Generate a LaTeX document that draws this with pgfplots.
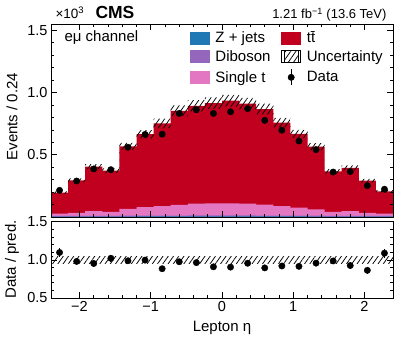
\documentclass[border=0pt]{standalone}
\usepackage{fontspec}
\setmainfont{Liberation Sans}
\usepackage{pgfplots}
\usepackage{pgfplotstable}
\pgfplotsset{compat=1.18}
\usepgfplotslibrary{fillbetween}
\usetikzlibrary{patterns.meta}

\definecolor{zjcol}{HTML}{1F77B4}
\definecolor{vvcol}{HTML}{9467BD}
\definecolor{stcol}{HTML}{E377C2}
\definecolor{ttcol}{HTML}{C0001E}

% stacked tops per bin (left edge), last row repeats the last bin
\pgfplotstableread{
lo    zj    vv    st    tot   unclo unchi
-2.40 0.003 0.008 0.027 0.195 0.185 0.205
-2.16 0.003 0.008 0.034 0.295 0.280 0.310
-1.92 0.003 0.009 0.047 0.405 0.385 0.425
-1.68 0.003 0.009 0.042 0.372 0.353 0.391
-1.44 0.003 0.010 0.066 0.567 0.539 0.595
-1.20 0.004 0.011 0.079 0.665 0.632 0.698
-0.96 0.004 0.012 0.087 0.752 0.714 0.790
-0.72 0.004 0.012 0.098 0.853 0.810 0.896
-0.48 0.004 0.013 0.107 0.893 0.848 0.938
-0.24 0.004 0.013 0.110 0.915 0.869 0.961
 0.00 0.004 0.013 0.110 0.934 0.887 0.981
 0.24 0.004 0.013 0.107 0.910 0.865 0.956
 0.48 0.004 0.012 0.100 0.867 0.824 0.910
 0.72 0.004 0.012 0.087 0.758 0.720 0.796
 0.96 0.004 0.011 0.075 0.667 0.634 0.700
 1.20 0.003 0.010 0.062 0.565 0.537 0.593
 1.44 0.003 0.009 0.042 0.366 0.348 0.384
 1.68 0.003 0.009 0.047 0.394 0.374 0.414
 1.92 0.003 0.008 0.034 0.292 0.277 0.307
 2.16 0.003 0.008 0.027 0.205 0.195 0.215
 2.40 0.003 0.008 0.027 0.205 0.195 0.215
}\hist

\pgfplotstableread{
x     data  derr  ratio rerr
-2.28 0.214 0.012 1.097 0.062
-2.04 0.289 0.014 0.980 0.048
-1.80 0.386 0.016 0.953 0.041
-1.56 0.380 0.016 1.021 0.043
-1.32 0.560 0.020 0.988 0.035
-1.08 0.663 0.021 0.997 0.032
-0.84 0.665 0.021 0.884 0.029
-0.60 0.832 0.024 0.975 0.028
-0.36 0.861 0.024 0.964 0.027
-0.12 0.832 0.024 0.909 0.026
 0.12 0.845 0.024 0.905 0.026
 0.36 0.870 0.024 0.956 0.027
 0.60 0.776 0.023 0.895 0.027
 0.84 0.697 0.022 0.920 0.029
 1.08 0.610 0.020 0.915 0.031
 1.32 0.541 0.019 0.957 0.034
 1.56 0.361 0.016 0.986 0.043
 1.80 0.365 0.016 0.926 0.041
 2.04 0.252 0.013 0.863 0.045
 2.28 0.223 0.012 1.088 0.060
}\pts

\pgfplotsset{
  cmsax/.style={scale only axis, width=342pt, anchor=south west,
    xmin=-2.4, xmax=2.4, axis on top, tick align=inside,
    major tick length=6pt, minor tick length=3pt,
    xtick={-2,-1,0,1,2}, minor x tick num=4, minor y tick num=4,
    axis line style={line width=0.8pt},
    every tick/.style={line width=0.6pt, black},
    tick label style={font=\fontsize{14.5}{17}\selectfont},
    fill between/on layer=main},
  hatch/.style={draw=none, pattern={Lines[angle=55,distance=4.3pt,line width=0.75pt]}},
  datapts/.style={only marks, mark=*, mark size=3.2pt, black,
    error bars/y dir=both, error bars/y explicit, error bars/error mark=none,
    error bars/error bar style={line width=1pt, black}},
}

\begin{document}
\begin{tikzpicture}[font=\fontsize{15}{18}\selectfont]
\path (0,0) rectangle (407pt,339pt);

\begin{axis}[cmsax, at={(51pt,122pt)}, height=193pt,
  ymin=0, ymax=1.55, ytick={0,0.5,1,1.5}, yticklabels={,0.5,1.0,1.5},
  xticklabels={},
  ylabel={Events / 0.24},
  ylabel style={at={(axis description cs:-0.114,0.52)}, anchor=center},
  legend columns=2, legend cell align=left,
  legend style={at={(axis description cs:0.406,0.964)}, anchor=north west,
    draw=none, fill=none, inner sep=0pt, row sep=6pt,
    nodes={inner sep=0pt},
    /tikz/every odd column/.append style={column sep=6pt},
    /tikz/every even column/.append style={column sep=11pt}},
]
\addplot[forget plot, fill=ttcol, draw=none, const plot mark left] table[x=lo, y=tot] {\hist} \closedcycle;
\addplot[forget plot, fill=stcol, draw=none, const plot mark left] table[x=lo, y=st] {\hist} \closedcycle;
\addplot[forget plot, fill=vvcol, draw=none, const plot mark left] table[x=lo, y=vv] {\hist} \closedcycle;
\addplot[forget plot, fill=zjcol, draw=none, const plot mark left] table[x=lo, y=zj] {\hist} \closedcycle;
\addplot[forget plot, name path=up, draw=none, const plot mark left] table[x=lo, y=unchi] {\hist};
\addplot[forget plot, name path=dn, draw=none, const plot mark left] table[x=lo, y=unclo] {\hist};
\addplot[forget plot, hatch] fill between[of=up and dn];
\addplot[forget plot, datapts] table[x=x, y=data, y error=derr] {\pts};

\addlegendimage{legend image code/.code={\fill[zjcol] (0pt,-6pt) rectangle (19pt,6pt);}}
\addlegendentry{Z + jets}
\addlegendimage{legend image code/.code={\fill[ttcol] (0pt,-6pt) rectangle (19pt,6pt);}}
\addlegendentry{t\={t}}
\addlegendimage{legend image code/.code={\fill[vvcol] (0pt,-6pt) rectangle (19pt,6pt);}}
\addlegendentry{Diboson}
\addlegendimage{legend image code/.code={\path (0pt,-6pt) rectangle (19pt,6pt); \fill[pattern={Lines[angle=55,distance=4.3pt,line width=0.75pt]}] (3pt,-6pt) rectangle (17pt,6pt);}}
\addlegendentry{Uncertainty}
\addlegendimage{legend image code/.code={\fill[stcol] (0pt,-6pt) rectangle (19pt,6pt);}}
\addlegendentry{Single t}
\addlegendimage{legend image code/.code={\draw[line width=1pt] (9.5pt,-8pt) -- (9.5pt,8pt); \fill (9.5pt,0pt) circle (3.2pt);}}
\addlegendentry{Data}
\end{axis}

\begin{axis}[cmsax, at={(51pt,41pt)}, height=77pt,
  ymin=0.5, ymax=1.51, ytick={0.5,1,1.5}, yticklabels={0.5,1.0,1.5},
  xticklabels={−2,−1,0,1,2},
  xlabel={Lepton η},
  xlabel style={at={(axis description cs:0.5,-0.43)}, anchor=base},
  ylabel={Data / pred.},
  ylabel style={at={(axis description cs:-0.114,0.5)}, anchor=center},
]
\addplot[forget plot, hatch] coordinates {(-2.4,0.95) (2.4,0.95) (2.4,1.05) (-2.4,1.05) (-2.4,0.95)};
\addplot[forget plot, datapts] table[x=x, y=ratio, y error=rerr] {\pts};
\end{axis}

\node[anchor=base west, font=\fontsize{13.5}{16}\selectfont] at (52pt,320pt) {×10\textsuperscript{3}};
\node[anchor=base west, font=\fontsize{17.5}{20}\selectfont\bfseries] at (92pt,320pt) {CMS};
\node[anchor=base east, font=\fontsize{13}{16}\selectfont] at (390pt,320.5pt) {1.21 fb\textsuperscript{−1} (13.6 TeV)};
\node[anchor=base west] at (61pt,297.5pt) {eμ channel};
\end{tikzpicture}
\end{document}
